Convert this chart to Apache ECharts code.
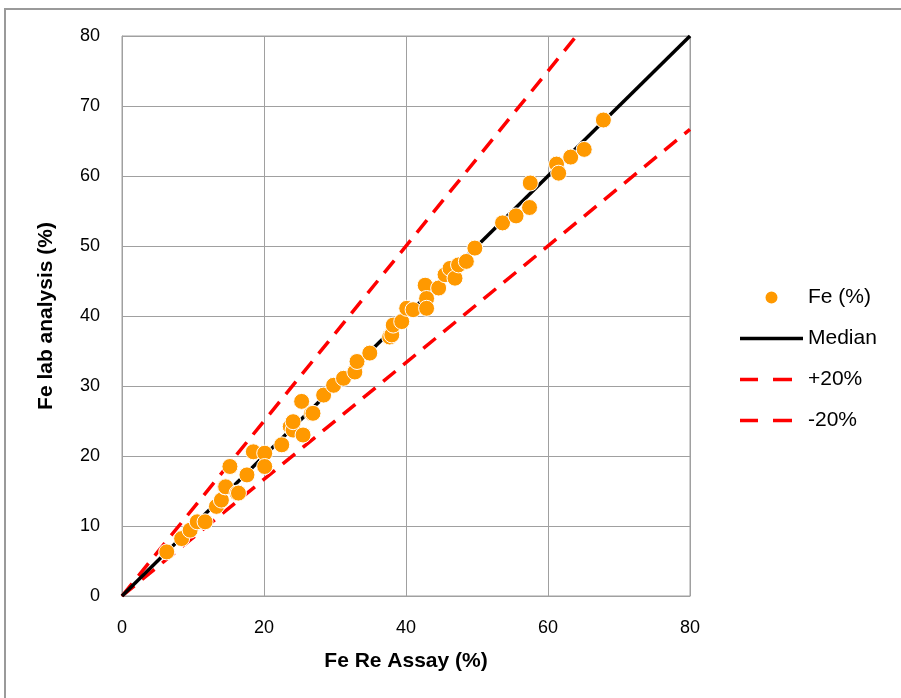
<!DOCTYPE html>
<html>
<head>
<meta charset="utf-8">
<script src="https://cdn.jsdelivr.net/npm/echarts@6/dist/echarts.min.js"></script>
<style>
html,body{margin:0;padding:0;background:#fff;}
#chart{width:901px;height:698px;}
</style>
</head>
<body>
<div id="chart"></div>
<script>
// Fe Re Assay (%) values (x) and Fe lab analysis (%) values (y)
const feReAssay = [6.3, 8.4, 9.6, 10.6, 11.7, 13.3, 14.0, 14.5, 14.6, 15.2, 16.2, 16.4, 17.6, 18.5, 20.1, 20.1, 22.5, 23.7, 24.1, 24.1, 25.3, 25.5, 26.7, 26.9, 28.4, 29.8, 31.2, 32.8, 33.1, 34.9, 37.7, 38.0, 38.2, 39.4, 40.1, 41.0, 42.7, 42.9, 42.9, 44.6, 45.5, 46.2, 46.9, 47.4, 48.5, 49.7, 53.6, 55.5, 57.4, 57.5, 61.2, 61.5, 63.2, 65.1, 67.8];
const feLab    = [6.3, 8.2, 9.4, 10.6, 10.6, 12.8, 13.7, 15.6, 15.6, 18.5, 14.7, 14.7, 17.3, 20.6, 20.4, 18.5, 21.6, 24.2, 23.7, 24.9, 27.8, 23.0, 26.1, 26.1, 28.7, 30.1, 31.1, 32.0, 33.5, 34.7, 37.0, 37.3, 38.7, 39.2, 41.1, 40.9, 44.4, 42.5, 41.1, 44.0, 45.9, 46.8, 45.4, 47.3, 47.8, 49.7, 53.3, 54.3, 55.5, 59.0, 61.7, 60.4, 62.7, 63.8, 68.0];
// Reference lines: endpoints [x, y]
const medianLine = [[0, 0], [80, 80]];
const plus20Line = [[0, 0], [64, 80]];
const minus20Line = [[0, 0], [80, 66.67]];
const xTicks = [0, 20, 40, 60, 80];
const yTicks = [0, 10, 20, 30, 40, 50, 60, 70, 80];

const points = feReAssay.map((x, i) => [x, feLab[i]]);
const FONT = '"Liberation Sans", Arial, sans-serif';
const solidIcon = 'path://M0,0H63V3.5H0Z';
const dashIcon = 'path://M0,0H18V3.5H0Z M33,0H52V3.5H33Z M62.9,1.7H63V1.8H62.9Z';

const chart = echarts.init(document.getElementById('chart'));
chart.setOption({
  animation: false,
  backgroundColor: '#fff',
  textStyle: { fontFamily: FONT },
  graphic: [{
    type: 'rect', silent: true, z: -10,
    shape: { x: 5, y: 9, width: 1200, height: 1200 },
    style: { fill: 'none', stroke: '#9a9a9a', lineWidth: 2 }
  }],
  grid: { left: 122, top: 36, width: 568, height: 560, show: true, borderColor: '#a0a0a0', borderWidth: 1, containLabel: false },
  legend: {
    orient: 'vertical', left: 735, top: 282, itemWidth: 63, itemHeight: 14, itemGap: 20, itemTextGap: 9,
    textStyle: { fontSize: 21, color: '#000', fontFamily: FONT },
    data: [
      { name: 'Fe (%)', icon: 'circle' },
      { name: 'Median', icon: solidIcon },
      { name: '+20%', icon: dashIcon },
      { name: '-20%', icon: dashIcon }
    ]
  },
  xAxis: {
    type: 'value', min: xTicks[0], max: xTicks[xTicks.length - 1], interval: 20,
    name: 'Fe Re Assay (%)', nameLocation: 'middle', nameGap: 55,
    nameTextStyle: { fontSize: 21, fontWeight: 'bold', color: '#000', fontFamily: FONT },
    axisLine: { show: true, lineStyle: { color: '#a0a0a0' } },
    axisTick: { show: false },
    axisLabel: { fontSize: 18, color: '#000', margin: 23, fontFamily: FONT },
    splitLine: { show: true, lineStyle: { color: '#a0a0a0', width: 1 } }
  },
  yAxis: {
    type: 'value', min: yTicks[0], max: yTicks[yTicks.length - 1], interval: 10,
    name: 'Fe lab analysis (%)', nameLocation: 'middle', nameGap: 65, nameRotate: 90,
    nameTextStyle: { fontSize: 21, fontWeight: 'bold', color: '#000', fontFamily: FONT },
    axisLine: { show: true, lineStyle: { color: '#a0a0a0' } },
    axisTick: { show: false },
    axisLabel: { fontSize: 18, color: '#000', margin: 22, fontFamily: FONT },
    splitLine: { show: true, lineStyle: { color: '#a0a0a0', width: 1 } }
  },
  series: [
    {
      name: 'Fe (%)', type: 'scatter', data: points, symbol: 'circle', symbolSize: 16, z: 5,
      itemStyle: { color: '#FF9900', borderColor: '#fff', borderWidth: 1, opacity: 1 }
    },
    {
      name: 'Median', type: 'line', data: medianLine, showSymbol: false, symbol: 'none', z: 3,
      lineStyle: { color: '#000', width: 3.5 }, itemStyle: { color: '#000' }
    },
    {
      name: '+20%', type: 'line', data: plus20Line, showSymbol: false, symbol: 'none', z: 2,
      lineStyle: { color: '#FF0000', width: 3.5, type: [16, 10] }, itemStyle: { color: '#FF0000' }
    },
    {
      name: '-20%', type: 'line', data: minus20Line, showSymbol: false, symbol: 'none', z: 2,
      lineStyle: { color: '#FF0000', width: 3.5, type: [16, 10] }, itemStyle: { color: '#FF0000' }
    }
  ]
});
</script>
</body>
</html>
